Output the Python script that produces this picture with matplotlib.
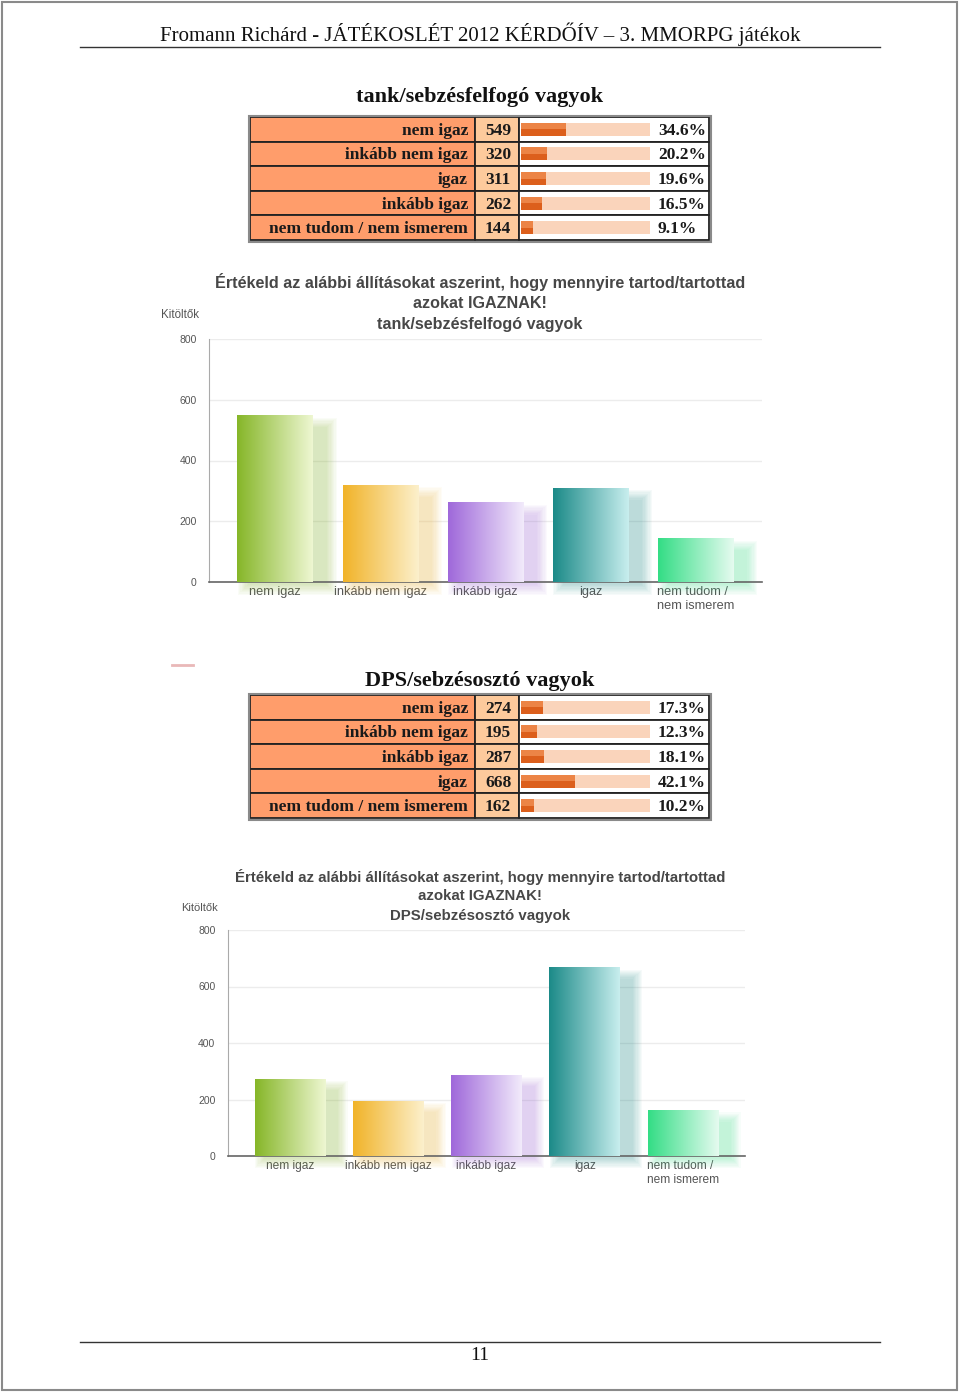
import numpy as np
import matplotlib.pyplot as plt
from matplotlib.patches import Rectangle
from matplotlib.colors import LinearSegmentedColormap

W, H = 960, 1393

header = 'Fromann Richárd - JÁTÉKOSLÉT 2012 KÉRDŐÍV – 3. MMORPG játékok'
page_no = '11'

# table data (order as in the tables)
tank_title = 'tank/sebzésfelfogó vagyok'
tank_labels = ['nem igaz', 'inkább nem igaz', 'igaz', 'inkább igaz', 'nem tudom / nem ismerem']
tank_counts = [549, 320, 311, 262, 144]
tank_pcts = [34.6, 20.2, 19.6, 16.5, 9.1]

dps_title = 'DPS/sebzésosztó vagyok'
dps_labels = ['nem igaz', 'inkább nem igaz', 'inkább igaz', 'igaz', 'nem tudom / nem ismerem']
dps_counts = [274, 195, 287, 668, 162]
dps_pcts = [17.3, 12.3, 18.1, 42.1, 10.2]

# bar chart order
chart_cats = ['nem igaz', 'inkább nem igaz', 'inkább igaz', 'igaz', 'nem tudom / nem ismerem']
chart_ticklabels = ['nem igaz', 'inkább nem igaz', 'inkább igaz', 'igaz', 'nem tudom /\nnem ismerem']
y_ticks = [0, 200, 400, 600, 800]
chart_title = ['Értékeld az alábbi állításokat aszerint, hogy mennyire tartod/tartottad',
               'azokat IGAZNAK!']
y_label = 'Kitöltők'

bar_colors = [('#86b628', '#eef7d2'),
              ('#f1b328', '#fcf0cc'),
              ('#9f68da', '#f2ebfb'),
              ('#1b8a88', '#c8eeee'),
              ('#33dd85', '#e6fbf0')]

LABEL_BG = '#ff9d6b'
COUNT_BG = '#fdca9c'
TRACK = '#fad4bb'
DARK = '#dc5f1c'
DARK_TOP = '#ec8446'
SERIF = 'Liberation Serif'
SANS = 'Liberation Sans'


def fx(x):
    return x / W


def fy(y):
    return 1 - y / H


fig = plt.figure(figsize=(9.6, 13.93), dpi=100)
page = fig.add_axes([0, 0, 1, 1])
page.set_xlim(0, W)
page.set_ylim(H, 0)
page.axis('off')

# page frame, header, footer
page.add_patch(Rectangle((2, 2), W - 5, H - 5, fill=False, ec='#8a8a8a', lw=1.5))
page.plot([80, 880], [47, 47], color='#333', lw=1)
page.text(480, 34, header, ha='center', va='center', fontsize=15, family=SERIF, color='#111')
page.plot([80, 880], [1342, 1342], color='#333', lw=1)
page.text(480, 1356, page_no, ha='center', va='center', fontsize=14, family=SERIF, color='#111')
page.plot([172, 193], [665, 665], color='#e9b8b8', lw=2)


def draw_table(title, title_y, top, labels, counts, pcts):
    rh = 24.6
    x0, x1, x2, x3 = 250, 475, 519, 709
    page.text(480, title_y, title, ha='center', va='center', fontsize=16,
              fontweight='bold', family=SERIF, color='#111')
    for i, (lab, n, p) in enumerate(zip(labels, counts, pcts)):
        y = top + i * rh
        page.add_patch(Rectangle((x0, y), x1 - x0, rh, fc=LABEL_BG, ec='#222', lw=1.3))
        page.add_patch(Rectangle((x1, y), x2 - x1, rh, fc=COUNT_BG, ec='#222', lw=1.3))
        page.add_patch(Rectangle((x2, y), x3 - x2, rh, fc='white', ec='#222', lw=1.3))
        kw = dict(va='center', fontsize=12.5, fontweight='bold', family=SERIF, color='#1a1a1a')
        page.text(468, y + rh / 2 + 1.5, lab, ha='right', **kw)
        page.text(485, y + rh / 2 + 1.5, str(n), ha='left', **kw)
        page.text(658, y + rh / 2 + 1.5, f'{p}%', ha='left', **kw)
    page.add_patch(Rectangle((x0 - 1.5, top - 1.5), x3 - x0 + 3, 5 * rh + 3,
                             fill=False, ec='#8a8a8a', lw=1.5))

    bax = fig.add_axes([fx(521), fy(top + 5 * rh), (650 - 521) / W, 5 * rh / H])
    bax.patch.set_alpha(0)
    bax.set_xlim(0, 100)
    bax.set_ylim(4.5, -0.5)
    bax.axis('off')
    rows = np.arange(len(pcts))
    bh = 0.53
    bax.barh(rows, 100, height=bh, color=TRACK)
    bax.barh(rows, pcts, height=bh, color=DARK)
    bax.barh(rows - bh / 4, pcts, height=bh / 2, color=DARK_TOP)


def draw_chart(rect, values, subtitle, title_ys, tsize, xsize, ksize, kit_xy):
    ax = fig.add_axes(rect)
    ax.patch.set_alpha(0)
    x = np.arange(len(values))
    bars = ax.bar(x, values, width=0.72, color='none', zorder=3)
    grad = np.linspace(0, 1, 256).reshape(1, -1)
    for b, (c0, c1) in zip(bars, bar_colors):
        x0, w, h = b.get_x(), b.get_width(), b.get_height()
        # soft, blurred shadow behind the bar
        for k in range(9):
            ax.add_patch(Rectangle((x0 + 0.1 - 0.012 * k, -10 - 4 * k),
                                   w + 0.03 + 0.024 * k, h - 30 + 8 * k,
                                   fc=c0, ec='none', alpha=0.035, zorder=2, clip_on=False))
        cmap = LinearSegmentedColormap.from_list('g', [c0, c1])
        im = ax.imshow(grad, extent=[x0, x0 + w, 0, h], aspect='auto', cmap=cmap,
                       interpolation='bilinear', zorder=3)
        im.set_clip_path(b)
    ax.set_xlim(-0.63, 4.63)
    ax.set_ylim(0, 800)
    ax.set_yticks(y_ticks)
    ax.set_xticks(x, chart_ticklabels)
    for t in ax.get_xticklabels():
        t.set_multialignment('left')
    ax.yaxis.grid(True, color='#ececec', lw=1)
    ax.set_axisbelow(True)
    for s in ['top', 'right']:
        ax.spines[s].set_visible(False)
    ax.spines['left'].set_color('#aaaaaa')
    ax.spines['bottom'].set_color('#666666')
    ax.spines['bottom'].set_linewidth(1.2)
    ax.tick_params(axis='y', length=0, pad=9, labelsize=7.5, labelcolor='#555')
    ax.tick_params(axis='x', length=0, pad=3, labelsize=xsize, labelcolor='#555')
    for t in ax.get_xticklabels() + ax.get_yticklabels():
        t.set_family(SANS)

    for line, yy in zip(chart_title + [subtitle], title_ys):
        fig.text(0.5, fy(yy), line, ha='center', va='center', fontsize=tsize,
                 fontweight='bold', family=SANS, color='#474747')
    fig.text(fx(kit_xy[0]), fy(kit_xy[1]), y_label, ha='center', va='center',
             fontsize=ksize, family=SANS, color='#555')
    return ax


draw_table(tank_title, 97, 117, tank_labels, tank_counts, tank_pcts)
draw_table(dps_title, 681, 695, dps_labels, dps_counts, dps_pcts)

tank_values = [tank_counts[tank_labels.index(c)] for c in chart_cats]
dps_values = [dps_counts[dps_labels.index(c)] for c in chart_cats]

draw_chart([fx(209), fy(582), 553 / W, 243 / H], tank_values, tank_title,
           [282, 303, 324], 11.6, 9.2, 8.3, (180, 315))
draw_chart([fx(228), fy(1156), 517 / W, 226 / H], dps_values, dps_title,
           [877, 896, 916], 10.8, 8.6, 8, (200, 908))

fig.savefig('out.png', dpi=100)
